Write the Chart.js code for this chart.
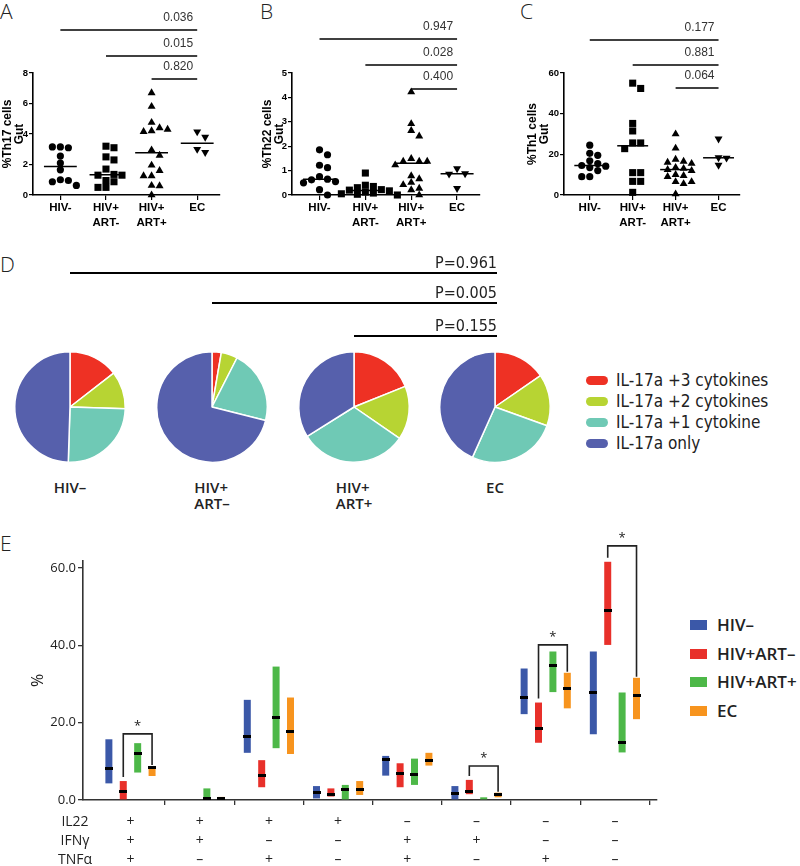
<!DOCTYPE html>
<html>
<head>
<meta charset="utf-8">
<script src="https://cdn.jsdelivr.net/npm/chart.js@4.4.1/dist/chart.umd.min.js"></script>
<style>
  body { margin: 0; background: #fff; }
  #page { position: relative; width: 800px; height: 866px; overflow: hidden; }
  canvas { position: absolute; }
  .txt { position: absolute; white-space: nowrap; color: #222; }
  .letter { font: 300 21px/20px "Open Sans", sans-serif; }
  .grp { font: 600 15px/16px "Open Sans", sans-serif; transform: translateX(-50%); }
  .dleg { font: 17px/20px "Liberation Sans Narrow", "DejaVu Sans Condensed", sans-serif; }
  .dleg i { display: inline-block; width: 22px; height: 9px; border-radius: 5px; vertical-align: 1px; margin-right: 8px; }
  .eleg { font: 600 17px/20px "Open Sans", sans-serif; }
  .eleg i { display: inline-block; width: 17px; height: 10px; vertical-align: 1px; margin-right: 10px; }
</style>
</head>
<body>
<div id="page">
  <div class="txt letter" style="left:0;top:1px">A</div>
  <div class="txt letter" style="left:260px;top:1px">B</div>
  <div class="txt letter" style="left:520px;top:1px">C</div>
  <div class="txt letter" style="left:0;top:254px">D</div>
  <div class="txt letter" style="left:0;top:533px">E</div>

  <canvas id="chartA" width="240" height="240" style="left:0;top:0"></canvas>
  <canvas id="chartB" width="240" height="240" style="left:260px;top:0"></canvas>
  <canvas id="chartC" width="240" height="240" style="left:520px;top:0"></canvas>

  <canvas id="dLines" width="520" height="100" style="left:0;top:250px"></canvas>
  <canvas id="pie0" width="116" height="116" style="left:12px;top:349px"></canvas>
  <canvas id="pie1" width="116" height="116" style="left:154px;top:349px"></canvas>
  <canvas id="pie2" width="116" height="116" style="left:296px;top:349px"></canvas>
  <canvas id="pie3" width="116" height="116" style="left:437px;top:349px"></canvas>
  <div id="pieNames"></div>
  <div id="pieLegend"></div>

  <canvas id="chartE" width="680" height="346" style="left:0;top:520px"></canvas>
  <div id="eLegend"></div>
</div>
<script>
// ---- panels A-C: gut Th17 / Th22 / Th1 ----
const groupLabels = [["HIV-"], ["HIV+", "ART-"], ["HIV+", "ART+"], ["EC"]];

const th17HivNeg = [3.15, 3.1, 3.15, 2.55, 2.1, 1.65, 1.0, 0.95, 0.87, 0.63];
const th17ArtNeg = [3.2, 3.1, 2.5, 2.3, 1.7, 1.35, 1.3, 1.3, 0.95, 0.87, 0.5, 0.5];
const th17ArtPos = [6.7, 5.8, 4.75, 4.4, 4.2, 4.15, 4.3, 2.95, 2.6, 1.95, 1.6, 1.25, 1.25, 0.62, 0.6, 0.0];
const th17Ec = [4.15, 3.8, 3.0, 2.8];
const th17P = ["0.036", "0.015", "0.820"];

const th22HivNeg = [1.85, 1.65, 1.22, 1.12, 0.75, 0.65, 0.62, 0.55, 0.5, 0.22, 0.0];
const th22ArtNeg = [0.9, 0.4, 0.35, 0.3, 0.22, 0.2, 0.17, 0.12, 0.08, 0.05, 0.03, 0.0];
const th22ArtPos = [4.22, 2.92, 2.64, 2.41, 1.49, 1.38, 1.38, 1.38, 1.23, 0.78, 0.66, 0.51, 0.42, 0.27, 0.21, 0.0];
const th22Ec = [1.08, 0.88, 0.86, 0.27];
const th22P = ["0.947", "0.028", "0.400"];

const th1HivNeg = [24.5, 20.5, 19.5, 16.8, 15.5, 14.5, 14.2, 13.5, 12, 9, 9];
const th1ArtNeg = [55, 52.4, 35.2, 31.5, 25.6, 25.6, 22.8, 11, 11, 6.7, 6.7, 1.3];
const th1ArtPos = [30, 23, 17.5, 16.5, 16, 15.5, 13.5, 13, 12.5, 12, 10, 9.5, 9, 6.5, 6.5, 5.5, 0.5];
const th1Ec = [27.6, 18.4, 18.2, 14.7];
const th1P = ["0.177", "0.881", "0.064"];

// ---- panel D: IL-17a polyfunctionality ----
const pieLabels = ["IL-17a +3 cytokines", "IL-17a +2 cytokines", "IL-17a +1 cytokine", "IL-17a only"];
const pieColors = ["#ee3124", "#b7d433", "#6fc9b5", "#5660ac"];
const pieGroups = ["HIV–", "HIV+<br>ART–", "HIV+<br>ART+", "EC"];
const pieHivNeg = [14.5, 11, 25, 49.5];
const pieArtNeg = [2.7, 4.8, 21.4, 71.1];
const pieArtPos = [18.9, 15.7, 31.5, 33.9];
const pieEc = [15.4, 15.1, 26.2, 43.3];
const pieP = ["P=0.961", "P=0.005", "P=0.155"];

// ---- panel E: cytokine combinations, range + median ----
const rowNames = ["IL22", "IFNγ", "TNFα"];
const il22Signs = ["+", "+", "+", "+", "–", "–", "–", "–"];
const ifngSigns = ["+", "+", "–", "–", "+", "+", "–", "–"];
const tnfaSigns = ["+", "–", "+", "–", "+", "–", "+", "–"];
const eGroups = ["HIV–", "HIV+ART–", "HIV+ART+", "EC"];
const eColors = ["#3b58a8", "#e8302a", "#4db848", "#f7941e"];

const hivNegLow = [4.3, null, 12.2, 0.4, 6.3, 0, 22.2, 17.0];
const hivNegHigh = [15.7, null, 25.9, 3.6, 11.4, 3.6, 34.0, 38.4];
const hivNegMed = [8.2, null, 16.4, 1.9, 10.5, 1.7, 26.6, 27.8];
const artNegLow = [0, null, 3.3, 0.9, 3.3, 1.5, 14.8, 40.1];
const artNegHigh = [4.9, null, 10.3, 3.0, 9.5, 5.2, 25.2, 61.6];
const artNegMed = [2.3, null, 6.3, 1.5, 6.9, 2.3, 18.5, 49.1];
const artPosLow = [7.1, 0, 13.4, 0, 3.9, 0, 27.9, 12.3];
const artPosHigh = [14.7, 3.0, 34.5, 3.9, 10.7, 0.7, 38.4, 27.8];
const artPosMed = [12.1, 0.4, 21.4, 2.6, 6.6, null, 34.7, 14.9];
const ecLow = [6.2, 0, 11.9, 1.3, 8.9, 0.7, 23.7, 20.9];
const ecHigh = [8.8, 0.8, 26.5, 4.9, 12.2, 1.9, 32.9, 31.6];
const ecMed = [8.4, 0.5, 17.7, 2.8, 10.3, 1.5, 28.8, 26.9];

const sigCats = [0, 5, 6, 7];
const sigTops = [17.1, 8.8, 40.1, 65.7];

// ---------------------------------------------------------------
const ARIAL = '"Liberation Sans", Arial, sans-serif';
const OPEN = '"Open Sans", sans-serif';
const PLOT_H = 122;
const SWARM_STEP = 8;

const median = (values) => {
    const s = [...values].sort((a, b) => a - b);
    const n = s.length;
    return n % 2 ? s[(n - 1) / 2] : (s[n / 2 - 1] + s[n / 2]) / 2;
};

// spread points with close values sideways, like a column scatter
const swarm = (values, yMax, unitPx) => {
    const placed = [];
    return values.map((v) => {
        const py = (v / yMax) * PLOT_H;
        for (let k = 0; k < 40; k++) {
            const off = (k % 2 ? 1 : -1) * Math.ceil(k / 2) * SWARM_STEP;
            const free = placed.every((p) => Math.abs(p.py - py) >= 6.5 || Math.abs(p.off - off) >= SWARM_STEP);
            if (free) {
                placed.push({ py, off });
                return off / unitPx;
            }
        }
        return 0;
    });
};

const markers = [
    { style: "circle", radius: 3.6, rotation: 0 },
    { style: "rect", radius: 5, rotation: 0 },
    { style: "triangle", radius: 4.6, rotation: 0 },
    { style: "triangle", radius: 4.6, rotation: 180 },
];

const pLinesPlugin = (pValues, rows) => ({
    id: "pLines",
    afterDraw(chart) {
        const { ctx } = chart;
        const x = chart.scales.x;
        const xEnd = x.getPixelForValue(3);
        ctx.save();
        pValues.forEach((p, i) => {
            const x0 = x.getPixelForValue(i);
            ctx.strokeStyle = "#000";
            ctx.lineWidth = 1.6;
            ctx.beginPath();
            ctx.moveTo(x0, rows[i]);
            ctx.lineTo(xEnd, rows[i]);
            ctx.stroke();
            ctx.fillStyle = "#333";
            ctx.font = "12px " + ARIAL;
            ctx.textAlign = "right";
            ctx.textBaseline = "middle";
            ctx.fillText(p, xEnd - 4, rows[i] - 12);
        });
        ctx.restore();
    },
});

const createScatter = (id, series, yMax, step, title, pValues, rows, axisW, titlePad) => {
    const unitPx = (240 - axisW - 20) / 4.1;
    const datasets = [];
    series.forEach((values, g) => {
        const offs = swarm(values, yMax, unitPx);
        const m = markers[g];
        datasets.push({
            type: "scatter",
            data: values.map((v, j) => ({ x: g + offs[j], y: v })),
            pointStyle: m.style,
            pointRadius: m.radius,
            pointRotation: m.rotation,
            backgroundColor: "#000",
            borderColor: "#000",
            pointBorderWidth: 0,
            clip: false,
        });
        const med = median(values);
        datasets.push({
            type: "line",
            data: [{ x: g - 0.36, y: med }, { x: g + 0.36, y: med }],
            borderColor: "#000",
            borderWidth: 1.5,
            pointRadius: 0,
            clip: false,
        });
    });

    new Chart(document.getElementById(id), {
        type: "scatter",
        data: { datasets },
        options: {
            responsive: false,
            animation: false,
            layout: { padding: { top: 73, right: 20, bottom: 10, left: 0 } },
            plugins: { legend: { display: false }, tooltip: { enabled: false } },
            scales: {
                x: {
                    type: "linear",
                    min: -0.6,
                    max: 3.5,
                    afterBuildTicks: (s) => { s.ticks = [0, 1, 2, 3].map((v) => ({ value: v })); },
                    afterFit: (s) => { s.height = 35; },
                    ticks: {
                        callback: (v) => groupLabels[v],
                        font: { family: ARIAL, weight: "bold", size: 11.5, lineHeight: 1.25 },
                        color: "#000",
                        padding: 1,
                        maxRotation: 0,
                        autoSkip: false,
                    },
                    grid: { drawOnChartArea: false, tickLength: 5, color: "#000", lineWidth: 1.2 },
                    border: { color: "#000", width: 1.6 },
                },
                y: {
                    min: 0,
                    max: yMax,
                    afterFit: (s) => { s.width = axisW; },
                    ticks: { stepSize: step, font: { family: ARIAL, weight: "bold", size: 9.5 }, color: "#000", padding: 1 },
                    grid: { drawOnChartArea: false, tickLength: 4, color: "#000", lineWidth: 1.2 },
                    border: { color: "#000", width: 1.6 },
                    title: {
                        display: true,
                        text: title,
                        font: { family: ARIAL, weight: "bold", size: 12, lineHeight: 1.0 },
                        color: "#000",
                        padding: { top: titlePad, bottom: 0 },
                    },
                },
            },
        },
        plugins: [pLinesPlugin(pValues, rows)],
    });
};

createScatter("chartA", [th17HivNeg, th17ArtNeg, th17ArtPos, th17Ec], 8, 2, ["%Th17 cells", "Gut"], th17P, [30, 56, 79], 33, 2);
createScatter("chartB", [th22HivNeg, th22ArtNeg, th22ArtPos, th22Ec], 5, 1, ["%Th22 cells", "Gut"], th22P, [39, 65, 89], 32, 2);
createScatter("chartC", [th1HivNeg, th1ArtNeg, th1ArtPos, th1Ec], 60, 20, ["%Th1 cells", "Gut"], th1P, [40, 65, 88], 44, 7);

// ---- D: pies ----
const pies = [pieHivNeg, pieArtNeg, pieArtPos, pieEc].map((values, i) =>
    new Chart(document.getElementById("pie" + i), {
        type: "pie",
        data: {
            labels: pieLabels,
            datasets: [{ data: values, backgroundColor: pieColors, borderColor: "#fff", borderWidth: 1.5 }],
        },
        options: {
            responsive: false,
            animation: false,
            layout: { padding: 2 },
            plugins: { legend: { display: false }, tooltip: { enabled: false } },
        },
    })
);

const pieCenterX = (chart) => chart.canvas.offsetLeft + (chart.chartArea.left + chart.chartArea.right) / 2;
const pieNames = document.getElementById("pieNames");
pies.forEach((chart, i) => {
    const d = document.createElement("div");
    d.className = "txt grp";
    d.style.left = pieCenterX(chart) + "px";
    d.style.top = "479px";
    d.innerHTML = pieGroups[i];
    pieNames.appendChild(d);
});

const dl = document.getElementById("dLines");
const dctx = dl.getContext("2d");
const dTop = 250;
const lineRows = [273, 303, 336];
const ecX = pieCenterX(pies[3]) + 2;
pieP.forEach((p, i) => {
    const y = lineRows[i] - dTop;
    dctx.strokeStyle = "#000";
    dctx.lineWidth = 1.8;
    dctx.beginPath();
    dctx.moveTo(pieCenterX(pies[i]), y);
    dctx.lineTo(ecX, y);
    dctx.stroke();
    dctx.fillStyle = "#222";
    dctx.font = '16px "Liberation Sans Narrow", "DejaVu Sans Condensed", sans-serif';
    dctx.textAlign = "right";
    dctx.textBaseline = "alphabetic";
    dctx.fillText(p, ecX, y - 5);
});

const pieLegend = document.getElementById("pieLegend");
pieLabels.forEach((label, i) => {
    const d = document.createElement("div");
    d.className = "txt dleg";
    d.style.left = "586px";
    d.style.top = 370 + i * 21 + "px";
    d.innerHTML = '<i style="background:' + pieColors[i] + '"></i>' + label;
    pieLegend.appendChild(d);
});

// ---- E: floating ranges with medians ----
const CAT_PCT = 0.832;
const groupOffset = (d) => ((d - 1.5) * CAT_PCT) / 4;

const medianMark = document.createElement("canvas");
medianMark.width = 8;
medianMark.height = 3;
medianMark.getContext("2d").fillRect(0, 0, 8, 3);

const eLows = [hivNegLow, artNegLow, artPosLow, ecLow];
const eHighs = [hivNegHigh, artNegHigh, artPosHigh, ecHigh];
const eMeds = [hivNegMed, artNegMed, artPosMed, ecMed];

const eDatasets = [];
eGroups.forEach((name, d) => {
    eDatasets.push({
        type: "bar",
        label: name,
        data: eLows[d].map((lo, i) => (lo == null ? null : { x: i, y: [lo, eHighs[d][i]] })).filter(Boolean),
        backgroundColor: eColors[d],
        borderWidth: 0,
        categoryPercentage: CAT_PCT,
        barPercentage: 0.486,
        order: 2,
    });
});
eGroups.forEach((name, d) => {
    eDatasets.push({
        type: "scatter",
        label: name + " median",
        data: eMeds[d].map((m, i) => (m == null ? null : { x: i + groupOffset(d), y: m })).filter(Boolean),
        pointStyle: medianMark,
        pointRadius: 3,
        order: 1,
    });
});

const rowsPlugin = {
    id: "rows",
    afterDraw(chart) {
        const { ctx, chartArea } = chart;
        const x = chart.scales.x;
        const y = chart.scales.y;
        ctx.save();
        ctx.fillStyle = "#222";
        ctx.textAlign = "center";
        ctx.textBaseline = "middle";
        ctx.font = "14px " + OPEN;
        [il22Signs, ifngSigns, tnfaSigns].forEach((signs, r) => {
            const yy = chartArea.bottom + 22 + r * 19;
            ctx.fillText(rowNames[r], 75, yy);
            signs.forEach((s, i) => ctx.fillText(s, x.getPixelForValue(i), yy));
        });
        // significance brackets between HIV+ART- and EC
        ctx.strokeStyle = "#222";
        ctx.lineWidth = 1.6;
        sigCats.forEach((c, k) => {
            const xl = x.getPixelForValue(c + groupOffset(1));
            const xr = x.getPixelForValue(c + groupOffset(3));
            const top = y.getPixelForValue(sigTops[k]);
            const yl = y.getPixelForValue(artNegHigh[c]) - 4;
            const yr = y.getPixelForValue(ecHigh[c]) - 1;
            ctx.beginPath();
            ctx.moveTo(xl, yl);
            ctx.lineTo(xl, top);
            ctx.lineTo(xr, top);
            ctx.lineTo(xr, yr);
            ctx.stroke();
            ctx.font = "13px " + OPEN;
            ctx.fillText("*", (xl + xr) / 2, top - 8);
        });
        ctx.restore();
    },
};

new Chart(document.getElementById("chartE"), {
    type: "bar",
    data: { datasets: eDatasets },
    options: {
        responsive: false,
        animation: false,
        layout: { padding: { top: 41, right: 23, bottom: 61, left: 0 } },
        plugins: { legend: { display: false }, tooltip: { enabled: false } },
        scales: {
            x: {
                type: "linear",
                min: -0.686,
                max: 7.608,
                offset: false,
                afterBuildTicks: (s) => { s.ticks = [0.5, 1.5, 2.5, 3.5, 4.5, 5.5, 6.5, 7.5].map((v) => ({ value: v })); },
                afterFit: (s) => { s.height = 5; },
                ticks: { display: false },
                grid: { offset: false, drawOnChartArea: false, tickLength: 5, color: "#333", lineWidth: 1.3 },
                border: { color: "#333", width: 1.6 },
            },
            y: {
                min: 0,
                max: 61.8,
                afterFit: (s) => { s.width = 83; },
                ticks: {
                    stepSize: 20,
                    includeBounds: false,
                    callback: (v) => v.toFixed(1),
                    font: { family: OPEN, size: 13 },
                    color: "#222",
                    padding: 2,
                },
                grid: { drawOnChartArea: false, tickLength: 5, color: "#333", lineWidth: 1.3 },
                border: { color: "#333", width: 1.6 },
                title: { display: true, text: "%", font: { family: OPEN, size: 16 }, color: "#222", padding: { top: 29, bottom: 0 } },
            },
        },
    },
    plugins: [rowsPlugin],
});

const eLegend = document.getElementById("eLegend");
eGroups.forEach((name, i) => {
    const d = document.createElement("div");
    d.className = "txt eleg";
    d.style.left = "690px";
    d.style.top = 615 + i * 28.7 + "px";
    d.innerHTML = '<i style="background:' + eColors[i] + '"></i>' + name;
    eLegend.appendChild(d);
});
</script>
</body>
</html>
